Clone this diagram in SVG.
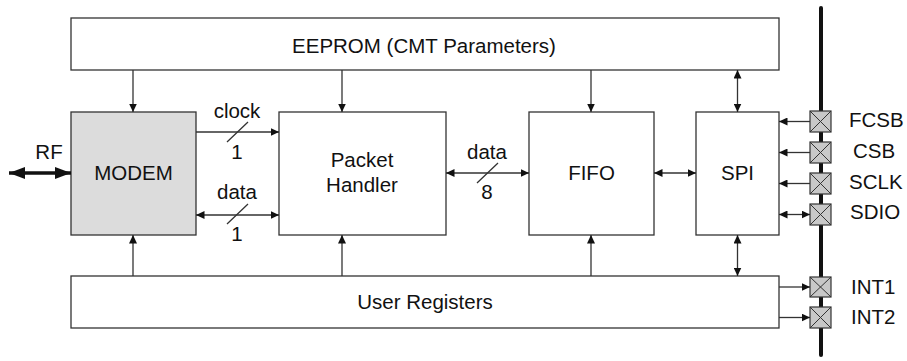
<svg xmlns="http://www.w3.org/2000/svg" width="907" height="361" viewBox="0 0 907 361">
<defs>
<style>
.box{fill:#fff;stroke:#333;stroke-width:1.3}
.gray{fill:#dcdcdc}
.pin{fill:#c8c8c8;stroke:#333;stroke-width:1.2}
.x{stroke:#333;stroke-width:1}
.c{stroke:#333;stroke-width:1.3;fill:none}
.t{font-family:"Liberation Sans",Arial,sans-serif;font-size:20.5px;fill:#111}
.m{text-anchor:middle}
</style>
<marker id="ah" markerUnits="userSpaceOnUse" markerWidth="9" markerHeight="8" refX="8.5" refY="4" orient="auto-start-reverse">
<path d="M0,0 L8.5,4 L0,8 z" fill="#111"/>
</marker>
<marker id="big" markerUnits="userSpaceOnUse" markerWidth="17" markerHeight="12" refX="16" refY="6" orient="auto-start-reverse">
<path d="M0,0 L16,6 L0,12 z" fill="#111"/>
</marker>
</defs>
<rect width="907" height="361" fill="#fff"/>

<g id="eeprom"><rect class="box" x="71" y="18" width="708" height="52"/><text class="t m" x="424" y="53">EEPROM (CMT Parameters)</text></g>
<g id="modem"><rect class="box gray" x="71" y="112" width="125" height="123"/><text class="t m" x="133.5" y="180">MODEM</text></g>
<g id="packet-handler"><rect class="box" x="279" y="112" width="167" height="123"/><text class="t m" x="362" y="167">Packet</text><text class="t m" x="362" y="192">Handler</text></g>
<g id="fifo"><rect class="box" x="529" y="112" width="125" height="123"/><text class="t m" x="591.5" y="180">FIFO</text></g>
<g id="spi"><rect class="box" x="696" y="112" width="83" height="123"/><text class="t m" x="737.5" y="180">SPI</text></g>
<g id="user-registers"><rect class="box" x="71" y="276" width="708" height="52"/><text class="t m" x="425" y="309">User Registers</text></g>

<g id="bus"><line x1="821" y1="8" x2="821" y2="355" stroke="#111" stroke-width="4" stroke-linecap="round"/></g>

<g id="pins">
<g id="pin-fcsb"><rect class="pin" x="810" y="111" width="21" height="21"/><path class="x" d="M810,111 L831,132 M831,111 L810,132"/><text class="t" x="849" y="127">FCSB</text></g>
<g id="pin-csb"><rect class="pin" x="810" y="142" width="21" height="21"/><path class="x" d="M810,142 L831,163 M831,142 L810,163"/><text class="t" x="853" y="158">CSB</text></g>
<g id="pin-sclk"><rect class="pin" x="810" y="173" width="21" height="21"/><path class="x" d="M810,173 L831,194 M831,173 L810,194"/><text class="t" x="849" y="189">SCLK</text></g>
<g id="pin-sdio"><rect class="pin" x="810" y="204" width="21" height="21"/><path class="x" d="M810,204 L831,225 M831,204 L810,225"/><text class="t" x="850" y="219">SDIO</text></g>
<g id="pin-int1"><rect class="pin" x="810" y="277" width="21" height="20"/><path class="x" d="M810,277 L831,297 M831,277 L810,297"/><text class="t" x="851" y="294">INT1</text></g>
<g id="pin-int2"><rect class="pin" x="810" y="307" width="21" height="21"/><path class="x" d="M810,307 L831,328 M831,307 L810,328"/><text class="t" x="851" y="324">INT2</text></g>
</g>

<g id="connectors">
<line class="c" x1="133" y1="70" x2="133" y2="112" marker-end="url(#ah)"/>
<line class="c" x1="342" y1="70" x2="342" y2="112" marker-end="url(#ah)"/>
<line class="c" x1="591" y1="70" x2="591" y2="112" marker-end="url(#ah)"/>
<line class="c" x1="737.5" y1="70" x2="737.5" y2="112" marker-start="url(#ah)" marker-end="url(#ah)"/>
<line class="c" x1="133" y1="276" x2="133" y2="235" marker-end="url(#ah)"/>
<line class="c" x1="342" y1="276" x2="342" y2="235" marker-end="url(#ah)"/>
<line class="c" x1="591" y1="276" x2="591" y2="235" marker-end="url(#ah)"/>
<line class="c" x1="737.5" y1="235" x2="737.5" y2="276" marker-start="url(#ah)" marker-end="url(#ah)"/>
<line class="c" x1="196" y1="132" x2="279" y2="132" marker-end="url(#ah)"/>
<line class="c" x1="196" y1="215" x2="279" y2="215" marker-start="url(#ah)" marker-end="url(#ah)"/>
<line class="c" x1="446" y1="173" x2="529" y2="173" marker-start="url(#ah)" marker-end="url(#ah)"/>
<line class="c" x1="654" y1="173" x2="696" y2="173" marker-start="url(#ah)" marker-end="url(#ah)"/>
<line class="c" x1="810" y1="121.5" x2="779" y2="121.5" marker-end="url(#ah)"/>
<line class="c" x1="810" y1="152.5" x2="779" y2="152.5" marker-end="url(#ah)"/>
<line class="c" x1="810" y1="183.5" x2="779" y2="183.5" marker-end="url(#ah)"/>
<line class="c" x1="779" y1="214.5" x2="810" y2="214.5" marker-start="url(#ah)" marker-end="url(#ah)"/>
<line class="c" x1="779" y1="287" x2="810" y2="287" marker-end="url(#ah)"/>
<line class="c" x1="779" y1="317.5" x2="810" y2="317.5" marker-end="url(#ah)"/>
<line x1="9" y1="173" x2="71" y2="173" stroke="#111" stroke-width="3.5" marker-start="url(#big)" marker-end="url(#big)"/>
<path class="c" d="M227,142 L248,122 M227,224 L248,204 M477,183 L498,163" stroke-width="1"/>
<text class="t m" x="237" y="118">clock</text>
<text class="t m" x="237" y="159">1</text>
<text class="t m" x="237" y="199">data</text>
<text class="t m" x="237" y="241">1</text>
<text class="t m" x="487" y="159">data</text>
<text class="t m" x="487" y="199">8</text>
<text class="t m" x="49" y="159">RF</text>
</g>
</svg>
